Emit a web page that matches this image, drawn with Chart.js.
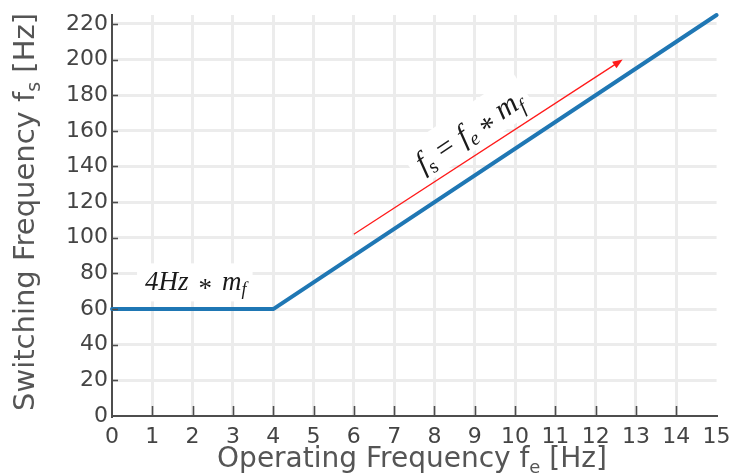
<!DOCTYPE html>
<html>
<head>
<meta charset="utf-8">
<script src="https://cdn.jsdelivr.net/npm/chart.js@4"></script>
<style>
  html, body { margin: 0; padding: 0; background: #ffffff; overflow: hidden; }
  #wrap { width: 733px; height: 474px; }
</style>
</head>
<body>
<div id="wrap"><canvas id="chart" width="733" height="474"></canvas></div>
<script>
// Switching frequency versus operating frequency (breakpoints of the curve)
const operatingFreq = [0, 4, 15];        // f_e [Hz]
const switchingFreq = [60, 60, 225];     // f_s [Hz]

// Axis ticks
const xTickValues = [0, 1, 2, 3, 4, 5, 6, 7, 8, 9, 10, 11, 12, 13, 14, 15];
const yTickValues = [0, 20, 40, 60, 80, 100, 120, 140, 160, 180, 200, 220];

// Annotation anchors, in data units
const annotations = {
  arrowFrom: [6, 102],
  arrowTo: [12.67, 200],
  flatLabel: [0.82, 70.5],     // left end / baseline
  slopeLabel: [8.86, 159.5]    // centre
};

const AXIS_COLOR = '#4d4d4d';
const TEXT_COLOR = '#444444';
const GRID_COLOR = '#ececec';
const SANS = "'DejaVu Sans', Verdana, sans-serif";
const SERIF = "'Liberation Serif', 'Times New Roman', serif";

function pieceFont(p, font) {
  const size = p.sub ? font.sub : font.size;
  const style = p.italic ? 'italic ' : '';
  return style + size + 'px ' + font.family;
}
function measureRun(ctx, parts, font) {
  let w = 0;
  for (const p of parts) {
    ctx.font = pieceFont(p, font);
    w += ctx.measureText(p.t).width + (p.gap || 0) * 2;
  }
  return w;
}
// Draw a run of text pieces (some subscripted or shifted) from a baseline point
function drawRun(ctx, parts, font, x, y) {
  let cx = x;
  for (const p of parts) {
    ctx.font = pieceFont(p, font);
    cx += (p.gap || 0);
    const dy = (p.sub ? font.subShift : 0) + (p.shift || 0);
    ctx.fillText(p.t, cx, y + dy);
    cx += ctx.measureText(p.t).width + (p.gap || 0);
  }
}

const xTitle = [
  { t: 'Operating Frequency f' },
  { t: 'e', sub: true },
  { t: ' [Hz]' }
];
const yTitle = [
  { t: 'Switching Frequency f' },
  { t: 's', sub: true },
  { t: ' [Hz]' }
];
const flatText = [
  { t: '4Hz', italic: true },
  { t: '*', gap: 10, shift: 7 },
  { t: 'm', italic: true },
  { t: 'f', italic: true, sub: true }
];
const slopeText = [
  { t: 'f', italic: true },
  { t: 's', sub: true },
  { t: '=', gap: 8 },
  { t: 'f', italic: true },
  { t: 'e', italic: true, sub: true },
  { t: '*', gap: 7, shift: 8 },
  { t: 'm', italic: true },
  { t: 'f', italic: true, sub: true }
];

const flatFont = { family: SERIF, size: 27, sub: 18, subShift: 5 };
const slopeFont = { family: SERIF, size: 30, sub: 20, subShift: 6 };

function slopeAngle(chart) {
  const { x, y } = chart.scales;
  const dx = x.getPixelForValue(annotations.arrowTo[0]) - x.getPixelForValue(annotations.arrowFrom[0]);
  const dy = y.getPixelForValue(annotations.arrowTo[1]) - y.getPixelForValue(annotations.arrowFrom[1]);
  return Math.atan2(dy, dx) - 0.015;
}

const decorations = {
  id: 'decorations',
  beforeDatasetsDraw(chart) {
    const { ctx, scales: { x, y } } = chart;
    ctx.save();
    ctx.fillStyle = '#ffffff';
    // white plate behind the flat-section label
    const fw = measureRun(ctx, flatText, flatFont);
    const fx = x.getPixelForValue(annotations.flatLabel[0]);
    const fy = y.getPixelForValue(annotations.flatLabel[1]);
    ctx.fillRect(fx - 8, fy - 27, fw + 14, 38);
    // white plate behind the sloped label
    const sw = measureRun(ctx, slopeText, slopeFont);
    ctx.translate(x.getPixelForValue(annotations.slopeLabel[0]),
                  y.getPixelForValue(annotations.slopeLabel[1]));
    ctx.rotate(slopeAngle(chart));
    ctx.fillRect(-sw / 2 - 8, -23, sw + 16, 42);
    ctx.restore();
  },
  afterDatasetsDraw(chart) {
    const { ctx, scales: { x, y }, chartArea } = chart;
    ctx.save();

    // inward tick marks
    ctx.strokeStyle = AXIS_COLOR;
    ctx.lineWidth = 1.6;
    for (const v of xTickValues) {
      if (v <= 0 || v >= 15) continue;
      const px = Math.round(x.getPixelForValue(v)) + 0.5;
      ctx.beginPath();
      ctx.moveTo(px, chartArea.bottom);
      ctx.lineTo(px, chartArea.bottom - 10);
      ctx.stroke();
    }
    for (const v of yTickValues) {
      if (v <= 0) continue;
      const py = Math.round(y.getPixelForValue(v)) + 0.5;
      ctx.beginPath();
      ctx.moveTo(chartArea.left, py);
      ctx.lineTo(chartArea.left + 6, py);
      ctx.stroke();
    }

    // red arrow parallel to the rising section
    const ax0 = x.getPixelForValue(annotations.arrowFrom[0]);
    const ay0 = y.getPixelForValue(annotations.arrowFrom[1]);
    const ax1 = x.getPixelForValue(annotations.arrowTo[0]);
    const ay1 = y.getPixelForValue(annotations.arrowTo[1]);
    const a = Math.atan2(ay1 - ay0, ax1 - ax0);
    ctx.strokeStyle = '#ff1a1a';
    ctx.fillStyle = '#ff1a1a';
    ctx.lineWidth = 1.3;
    ctx.beginPath();
    ctx.moveTo(ax0, ay0);
    ctx.lineTo(ax1 - 8 * Math.cos(a), ay1 - 8 * Math.sin(a));
    ctx.stroke();
    ctx.beginPath();
    ctx.moveTo(ax1, ay1);
    ctx.lineTo(ax1 - 10 * Math.cos(a) + 4 * Math.sin(a), ay1 - 10 * Math.sin(a) - 4 * Math.cos(a));
    ctx.lineTo(ax1 - 10 * Math.cos(a) - 4 * Math.sin(a), ay1 - 10 * Math.sin(a) + 4 * Math.cos(a));
    ctx.closePath();
    ctx.fill();

    // formula labels
    ctx.fillStyle = '#1a1a1a';
    ctx.textBaseline = 'alphabetic';
    ctx.textAlign = 'left';
    drawRun(ctx, flatText, flatFont,
      x.getPixelForValue(annotations.flatLabel[0]),
      y.getPixelForValue(annotations.flatLabel[1]));

    const sw = measureRun(ctx, slopeText, slopeFont);
    ctx.save();
    ctx.translate(x.getPixelForValue(annotations.slopeLabel[0]),
                  y.getPixelForValue(annotations.slopeLabel[1]));
    ctx.rotate(slopeAngle(chart));
    drawRun(ctx, slopeText, slopeFont, -sw / 2, 9);
    ctx.restore();

    // axis titles
    ctx.fillStyle = '#555555';
    const xFont = { family: SANS, size: 28, sub: 18, subShift: 6 };
    const xw = measureRun(ctx, xTitle, xFont);
    drawRun(ctx, xTitle, xFont, 412 - xw / 2, 467);

    const yFont = { family: SANS, size: 29, sub: 19, subShift: 6 };
    const yw = measureRun(ctx, yTitle, yFont);
    ctx.save();
    ctx.translate(34, 212);
    ctx.rotate(-Math.PI / 2);
    drawRun(ctx, yTitle, yFont, -yw / 2, 0);
    ctx.restore();

    ctx.restore();
  }
};

const points = operatingFreq.map((f, i) => ({ x: f, y: switchingFreq[i] }));

new Chart(document.getElementById('chart'), {
  type: 'line',
  data: {
    datasets: [{
      data: points,
      borderColor: '#1f77b4',
      borderWidth: 4,
      borderCapStyle: 'round',
      borderJoinStyle: 'round',
      pointRadius: 0,
      tension: 0,
      fill: false,
      clip: false
    }]
  },
  options: {
    responsive: false,
    animation: false,
    events: [],
    layout: { padding: { left: 0, right: 16.4, top: 15, bottom: 0 } },
    plugins: { legend: { display: false }, tooltip: { enabled: false } },
    scales: {
      x: {
        type: 'linear',
        min: 0,
        max: 15,
        afterBuildTicks(scale) { scale.ticks = xTickValues.map(v => ({ value: v })); },
        ticks: {
          color: TEXT_COLOR,
          font: { family: SANS, size: 22 },
          padding: 8,
          maxRotation: 0,
          autoSkip: false
        },
        grid: {
          color: c => (c.tick && c.tick.value > 0 && c.tick.value < 15) ? GRID_COLOR : 'rgba(0,0,0,0)',
          lineWidth: 3,
          drawTicks: false
        },
        border: { color: AXIS_COLOR, width: 2 },
        afterFit(scale) {
          scale.height = 58;
          scale.paddingLeft = 0;
          scale.paddingRight = 0;
        }
      },
      y: {
        type: 'linear',
        min: 0,
        max: 225,
        afterBuildTicks(scale) { scale.ticks = yTickValues.map(v => ({ value: v })); },
        ticks: {
          color: TEXT_COLOR,
          font: { family: SANS, size: 22 },
          padding: 4
        },
        grid: {
          color: c => (c.tick && c.tick.value > 0) ? GRID_COLOR : 'rgba(0,0,0,0)',
          lineWidth: 3,
          drawTicks: false
        },
        border: { color: AXIS_COLOR, width: 2 },
        afterFit(scale) {
          scale.width = 112;
          scale.paddingTop = 0;
          scale.paddingBottom = 0;
        }
      }
    }
  },
  plugins: [decorations]
});
</script>
</body>
</html>
